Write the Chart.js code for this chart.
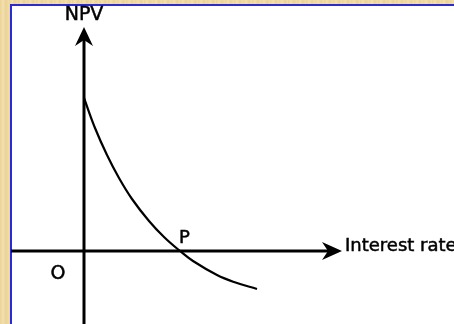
<!DOCTYPE html>
<html>
<head>
<meta charset="utf-8">
<script src="https://cdn.jsdelivr.net/npm/chart.js@4/dist/chart.umd.min.js"></script>
<style>
  html, body { margin:0; padding:0; }
  body {
    width:454px; height:324px; overflow:hidden; position:relative;
    background:
      repeating-linear-gradient(90deg, rgba(210,170,80,0.18) 0px, rgba(255,245,215,0.15) 3px, rgba(215,175,90,0.22) 6px, rgba(255,240,200,0.1) 9px),
      #f1dca7;
  }
  #panel {
    position:absolute; left:10px; top:4px; width:460px; height:340px;
    background:#ffffff; border-left:2px solid #2b2bd6; border-top:2px solid #2b2bd6;
  }
  #c { position:absolute; left:0; top:0; }
</style>
</head>
<body>
<div id="panel"></div>
<canvas id="c" width="454" height="324"></canvas>
<script>
// Curve of NPV against interest rate (arbitrary units)
const rate = [0, 11, 23, 35, 48, 65, 80, 96, 109, 133, 150, 173];
const npv  = [153, 123, 96, 73, 52, 30, 14, 0, -10, -24, -31, -38];

// Text labels
const yAxisTitle = 'NPV';
const xAxisTitle = 'Interest rate';
const originLabel = 'O';
const irrLabel = 'P';

function boldText(ctx, t, px, py) {
  ctx.fillText(t, px, py);
  ctx.strokeText(t, px, py);
}

const axesPlugin = {
  id: 'axesArrows',
  beforeDatasetsDraw(chart) {
    const {ctx, scales: {x, y}} = chart;
    const ox = x.getPixelForValue(0), oy = y.getPixelForValue(0);
    const xStart = x.getPixelForValue(-73), xTip = x.getPixelForValue(258);
    const yStart = y.getPixelForValue(y.min), yTip = y.getPixelForValue(224);
    ctx.save();
    ctx.strokeStyle = '#000'; ctx.fillStyle = '#000'; ctx.lineWidth = 3;
    // x axis
    ctx.beginPath(); ctx.moveTo(xStart, oy); ctx.lineTo(xTip - 12, oy); ctx.stroke();
    ctx.beginPath();
    ctx.moveTo(xTip, oy); ctx.lineTo(xTip - 20, oy - 9); ctx.lineTo(xTip - 14, oy);
    ctx.lineTo(xTip - 20, oy + 9); ctx.closePath(); ctx.fill();
    // y axis
    ctx.beginPath(); ctx.moveTo(ox, yStart); ctx.lineTo(ox, yTip + 12); ctx.stroke();
    ctx.beginPath();
    ctx.moveTo(ox, yTip); ctx.lineTo(ox - 9, yTip + 19); ctx.lineTo(ox, yTip + 13);
    ctx.lineTo(ox + 9, yTip + 19); ctx.closePath(); ctx.fill();
    ctx.restore();
  },
  afterDraw(chart) {
    const {ctx, scales: {x, y}} = chart;
    ctx.save();
    ctx.fillStyle = '#000'; ctx.strokeStyle = '#000'; ctx.lineWidth = 0.5;
    ctx.font = '19px "DejaVu Sans"';
    ctx.textAlign = 'center'; ctx.textBaseline = 'alphabetic';
    boldText(ctx, yAxisTitle, x.getPixelForValue(0), y.getPixelForValue(231));
    boldText(ctx, originLabel, x.getPixelForValue(-26), y.getPixelForValue(-28));
    ctx.textAlign = 'left';
    ctx.font = '18px "DejaVu Sans"';
    boldText(ctx, irrLabel, x.getPixelForValue(95), y.getPixelForValue(8));
    boldText(ctx, xAxisTitle, x.getPixelForValue(261), y.getPixelForValue(0));
    ctx.restore();
  }
};

new Chart(document.getElementById('c'), {
  type: 'scatter',
  data: {
    datasets: [{
      data: rate.map((r, i) => ({x: r, y: npv[i]})),
      showLine: true,
      borderColor: '#000',
      borderWidth: 2.2,
      pointRadius: 0,
      tension: 0.4,
      fill: false
    }]
  },
  options: {
    responsive: false,
    animation: false,
    layout: { padding: 0 },
    plugins: { legend: { display: false }, tooltip: { enabled: false } },
    scales: {
      x: { type: 'linear', min: -84, max: 370, display: false },
      y: { type: 'linear', min: -73, max: 251, display: false }
    }
  },
  plugins: [axesPlugin]
});
</script>
</body>
</html>
